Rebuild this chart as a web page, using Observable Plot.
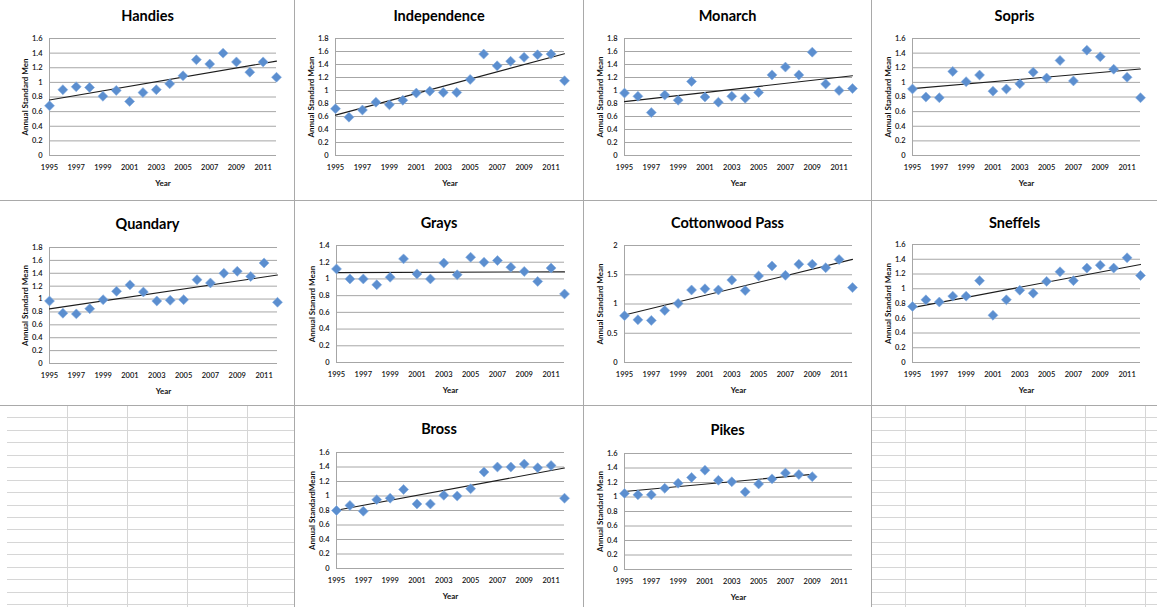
<!DOCTYPE html>
<html>
<head>
<meta charset="utf-8">
<script src="https://cdn.jsdelivr.net/npm/d3@7"></script>
<script src="https://cdn.jsdelivr.net/npm/@observablehq/plot@0.6"></script>
<style>
  html, body { margin: 0; padding: 0; background: #fff; }
  #root { position: relative; width: 1157px; height: 607px; overflow: hidden; background: #fff; font-family: Lato, "Open Sans", sans-serif; }
  .panel { position: absolute; background: #fff; }
  .panel svg { display: block; }
  .hline, .vline { position: absolute; background: #a9a9a9; }
  .gh, .gv { position: absolute; background: #d6d6d6; }
</style>
</head>
<body>
<div id="root"></div>
<script>
// ---- data ----
const years = [1995, 1996, 1997, 1998, 1999, 2000, 2001, 2002, 2003, 2004, 2005, 2006, 2007, 2008, 2009, 2010, 2011, 2012];
const xTickYears = [1995, 1997, 1999, 2001, 2003, 2005, 2007, 2009, 2011];

const handies      = [0.68, 0.90, 0.94, 0.93, 0.81, 0.89, 0.74, 0.86, 0.90, 0.98, 1.09, 1.31, 1.25, 1.40, 1.28, 1.14, 1.28, 1.07];
const independence = [0.72, 0.59, 0.70, 0.82, 0.78, 0.85, 0.96, 0.99, 0.97, 0.97, 1.17, 1.56, 1.38, 1.45, 1.51, 1.55, 1.56, 1.15];
const monarch      = [0.96, 0.91, 0.66, 0.93, 0.85, 1.14, 0.90, 0.82, 0.91, 0.88, 0.97, 1.24, 1.36, 1.24, 1.59, 1.10, 1.00, 1.03];
const sopris       = [0.91, 0.80, 0.79, 1.15, 1.01, 1.10, 0.88, 0.91, 0.98, 1.14, 1.06, 1.30, 1.02, 1.44, 1.35, 1.18, 1.07, 0.79];
const quandary     = [0.97, 0.78, 0.77, 0.85, 0.99, 1.12, 1.22, 1.11, 0.97, 0.98, 0.99, 1.30, 1.25, 1.40, 1.43, 1.35, 1.56, 0.95];
const grays        = [1.12, 1.00, 1.00, 0.93, 1.02, 1.24, 1.06, 1.00, 1.19, 1.05, 1.26, 1.20, 1.22, 1.14, 1.09, 0.97, 1.13, 0.82];
const cottonwood   = [0.80, 0.73, 0.72, 0.89, 1.01, 1.24, 1.26, 1.24, 1.41, 1.23, 1.48, 1.65, 1.49, 1.68, 1.68, 1.62, 1.76, 1.28];
const sneffels     = [0.76, 0.85, 0.82, 0.90, 0.90, 1.11, 0.64, 0.85, 0.98, 0.94, 1.10, 1.23, 1.11, 1.28, 1.32, 1.28, 1.42, 1.18];
const bross        = [0.80, 0.87, 0.79, 0.95, 0.97, 1.09, 0.89, 0.89, 1.01, 1.00, 1.10, 1.33, 1.40, 1.40, 1.44, 1.39, 1.42, 0.97];
const pikes        = [1.05, 1.03, 1.03, 1.12, 1.19, 1.27, 1.37, 1.23, 1.21, 1.07, 1.18, 1.25, 1.33, 1.31, 1.28];

const ticks14 = [0, 0.2, 0.4, 0.6, 0.8, 1, 1.2, 1.4];
const ticks16 = [0, 0.2, 0.4, 0.6, 0.8, 1, 1.2, 1.4, 1.6];
const ticks18 = [0, 0.2, 0.4, 0.6, 0.8, 1, 1.2, 1.4, 1.6, 1.8];
const ticks20 = [0, 0.5, 1, 1.5, 2];

const titles = ["Handies", "Independence", "Monarch", "Sopris", "Quandary", "Grays", "Cottonwood Pass", "Sneffels", "Bross", "Pikes"];
const yLabels = ["Annual Standard Men", "Annual Standard Mean", "Annual Standard Mean", "Annual Standard Mean",
                 "Annual Standard Mean", "Annual Stanard Mean", "Annual Standard Mean", "Annual Standard Mean",
                 "Annual StandardMean", "Annual Standard Mean"];
const seriesList = [handies, independence, monarch, sopris, quandary, grays, cottonwood, sneffels, bross, pikes];
const tickList = [ticks16, ticks18, ticks18, ticks16, ticks18, ticks14, ticks20, ticks16, ticks16, ticks16];

// ---- layout (pixels) ----
const layout = [
  {left: 0,   top: 0,   w: 294, h: 200, ml: 49, mr: 18, mt: 38, mb: 45, ty: 16},
  {left: 294, top: 0,   w: 289, h: 200, ml: 41, mr: 19, mt: 38, mb: 45, ty: 16},
  {left: 583, top: 0,   w: 288, h: 200, ml: 41, mr: 19, mt: 38, mb: 45, ty: 16},
  {left: 871, top: 0,   w: 286, h: 200, ml: 41, mr: 17, mt: 38, mb: 45, ty: 16},
  {left: 0,   top: 200, w: 294, h: 205, ml: 49, mr: 17, mt: 47, mb: 42, ty: 24},
  {left: 294, top: 200, w: 289, h: 205, ml: 42, mr: 19, mt: 45, mb: 43, ty: 23},
  {left: 583, top: 200, w: 288, h: 205, ml: 41, mr: 19, mt: 45, mb: 43, ty: 23},
  {left: 871, top: 200, w: 286, h: 205, ml: 41, mr: 17, mt: 44, mb: 43, ty: 23},
  {left: 294, top: 405, w: 289, h: 202, ml: 42, mr: 19, mt: 47, mb: 39, ty: 24},
  {left: 583, top: 405, w: 288, h: 202, ml: 41, mr: 19, mt: 48, mb: 38, ty: 25}
];

const root = document.getElementById("root");

// spreadsheet cells visible in the two empty slots
function sheet(x0, x1, y0, y1, lineStart, cols) {
  for (let y = y0 + 12.4; y < y1; y += 12.45) {
    const d = document.createElement("div");
    d.className = "gh";
    Object.assign(d.style, {left: lineStart + "px", top: Math.round(y) + "px", width: (x1 - lineStart) + "px", height: "1px"});
    root.appendChild(d);
  }
  for (const x of cols) {
    const d = document.createElement("div");
    d.className = "gv";
    Object.assign(d.style, {left: x + "px", top: y0 + "px", width: "1px", height: (y1 - y0) + "px"});
    root.appendChild(d);
  }
}
sheet(0, 294, 405, 607, 7, [67, 127, 187, 247]);
sheet(871, 1157, 405, 607, 871, [905, 965, 1025, 1085, 1145]);

const fmt = d => String(Math.round(d * 10) / 10);

layout.forEach((L, i) => {
  const data = seriesList[i].map((v, k) => ({year: years[k], value: v}));
  const yTicks = tickList[i];
  const yMax = yTicks[yTicks.length - 1];
  const frameW = L.w - L.ml - L.mr;
  const titleDx = L.w / 2 - (L.ml + frameW / 2);
  const chart = Plot.plot({
    width: L.w,
    height: L.h,
    marginLeft: L.ml, marginRight: L.mr, marginTop: L.mt, marginBottom: L.mb,
    style: {fontFamily: "Lato, 'Open Sans', sans-serif", fontSize: "7.5px", color: "#111", background: "transparent"},
    x: {domain: [1995, 2012]},
    y: {domain: [0, yMax]},
    marks: [
      Plot.ruleY(yTicks, {stroke: "#a6a6a6", strokeWidth: 1}),
      Plot.ruleX([1995], {stroke: "#a6a6a6", strokeWidth: 1, y1: 0, y2: yMax}),
      Plot.axisX(xTickYears, {tickSize: 0, tickPadding: 9, tickFormat: d => String(d), label: null, fontWeight: 600}),
      Plot.axisY(yTicks, {tickSize: 0, tickPadding: 7, tickFormat: fmt, label: null, fontWeight: 600}),
      Plot.text(["Year"], {frameAnchor: "bottom", dy: 28, lineAnchor: "middle", fontWeight: "bold", fontSize: 8}),
      Plot.text([yLabels[i]], {frameAnchor: "left", dx: -24, rotate: -90, textAnchor: "middle", lineAnchor: "middle", fontWeight: "bold", fontSize: 8}),
      Plot.text([titles[i]], {frameAnchor: "top", dy: L.ty - L.mt, dx: titleDx, lineAnchor: "middle", fontWeight: "bold", fontSize: 14.5, fill: "#000"}),
      Plot.linearRegressionY(data, {x: "year", y: "value", ci: 0, stroke: "#1c1c1c", strokeWidth: 1.1}),
      Plot.dot(data, {x: "year", y: "value", symbol: "diamond2", r: 4.5, fill: "#5b8ecf", stroke: "#86aee0", strokeWidth: 0.6})
    ]
  });
  const div = document.createElement("div");
  div.className = "panel";
  Object.assign(div.style, {left: L.left + "px", top: L.top + "px", width: L.w + "px", height: L.h + "px"});
  div.appendChild(chart);
  root.appendChild(div);
});

// panel separators
[[294, 0, 607], [583, 0, 607], [871, 0, 607]].forEach(([x, y0, y1]) => {
  const d = document.createElement("div");
  d.className = "vline";
  Object.assign(d.style, {left: x + "px", top: y0 + "px", width: "1px", height: (y1 - y0) + "px"});
  root.appendChild(d);
});
[200, 405].forEach(y => {
  const d = document.createElement("div");
  d.className = "hline";
  Object.assign(d.style, {left: "0px", top: y + "px", width: "1157px", height: "1px"});
  root.appendChild(d);
});
</script>
</body>
</html>
